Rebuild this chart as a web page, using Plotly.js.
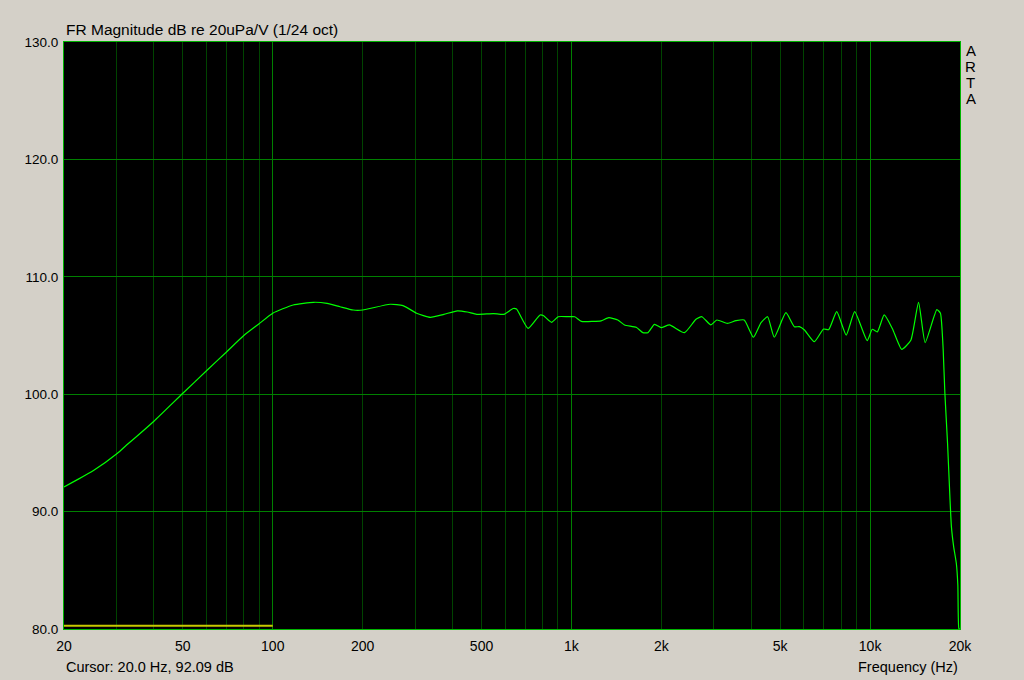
<!DOCTYPE html>
<html>
<head>
<meta charset="utf-8">
<script src="https://cdn.plot.ly/plotly-3.0.1.min.js"></script>
<style>
  html, body { margin: 0; padding: 0; background: #d4d0c8; }
  #chart { width: 1024px; height: 680px; }
</style>
</head>
<body>
<div id="chart"></div>
<script>
// Frequency response (Hz, dB re 20uPa/V)
const freqHz = [20, 22.1, 25.1, 30.2, 32.4, 35, 40, 50, 60, 70, 80, 90, 100, 117, 137, 152, 168, 186, 200, 247, 273, 303, 337, 374, 415, 448, 482, 548, 594, 638, 655, 716, 785, 805, 858, 903, 976, 1026, 1080, 1180, 1257, 1334, 1430, 1506, 1648, 1734, 1802, 1897, 1997, 2130, 2390, 2612, 2734, 2930, 3069, 3328, 3554, 3788, 4068, 4314, 4538, 4777, 5226, 5576, 5799, 6030, 6506, 6985, 7265, 7732, 8319, 8880, 9777, 10170, 10570, 11150, 11870, 12760, 13690, 14530, 15290, 16730, 17200, 17420, 17570, 17800, 18170, 18500, 18720, 19050, 19440, 19670, 19820, 19950];
const magDb = [92.1, 92.7, 93.5, 94.97, 95.67, 96.4, 97.7, 100.08, 102.0, 103.6, 105.0, 106.0, 106.9, 107.6, 107.83, 107.74, 107.45, 107.17, 107.17, 107.66, 107.55, 106.9, 106.55, 106.8, 107.1, 107.0, 106.8, 106.87, 106.8, 107.3, 107.25, 105.6, 106.75, 106.7, 106.12, 106.6, 106.6, 106.6, 106.2, 106.2, 106.25, 106.52, 106.32, 105.9, 105.7, 105.24, 105.24, 105.95, 105.67, 105.9, 105.24, 106.38, 106.6, 105.9, 106.32, 106.04, 106.26, 106.32, 104.85, 106.09, 106.6, 104.85, 106.94, 105.75, 105.75, 105.47, 104.47, 105.55, 105.5, 107.03, 105.04, 107.03, 104.56, 105.53, 105.3, 106.75, 105.6, 103.82, 104.6, 107.83, 104.4, 107.2, 106.9, 105.47, 103.77, 100.08, 95.82, 91.27, 88.7, 87.0, 85.6, 83.75, 80.06, 80.0];

// Yellow marker trace along the bottom
const markerFreq = [20, 100];
const markerDb = [80.28, 80.28];

// Axis ticks
const gridFreqs = [20, 30, 40, 50, 60, 70, 80, 90, 100, 200, 300, 400, 500, 600, 700, 800, 900, 1000, 2000, 3000, 4000, 5000, 6000, 7000, 8000, 9000, 10000, 20000];
const gridLabels = ['20', '', '', '50', '', '', '', '', '100', '200', '', '', '500', '', '', '', '', '1k', '2k', '', '', '5k', '', '', '', '', '10k', '20k'];
const decadeFreqs = [100, 1000, 10000];
const dbTicks = [80, 90, 100, 110, 120, 130];
const dbLabels = ['80.0', '90.0', '100.0', '110.0', '120.0', '130.0'];
const brand = 'ARTA';

const FONT = 'Liberation Sans, Arial, sans-serif';

const traces = [
  {
    x: markerFreq, y: markerDb, type: 'scatter', mode: 'lines',
    line: { color: '#c8c800', width: 2 }, hoverinfo: 'skip', showlegend: false
  },
  {
    x: freqHz, y: magDb, type: 'scatter', mode: 'lines',
    line: { color: '#00ff00', width: 1.2, shape: 'spline', smoothing: 0.5 },
    showlegend: false
  }
];

const xr = [Math.log10(20), Math.log10(20000)];

const annotations = [
  {
    text: 'Cursor: 20.0 Hz, 92.09 dB', xref: 'paper', yref: 'paper',
    x: 0, xshift: 0, xanchor: 'left', y: 0, yshift: -38, yanchor: 'middle',
    showarrow: false, font: { family: FONT, size: 14.5, color: '#000000' }
  },
  {
    text: 'Frequency (Hz)', xref: 'paper', yref: 'paper',
    x: 1, xshift: 0, xanchor: 'right', y: 0, yshift: -38, yanchor: 'middle',
    showarrow: false, font: { family: FONT, size: 14.5, color: '#000000' }
  }
];
brand.split('').forEach((ch, i) => {
  annotations.push({
    text: ch, xref: 'paper', yref: 'paper',
    x: 1, xshift: 10.5, xanchor: 'center', y: 1, yshift: -8 - 16 * i, yanchor: 'middle',
    showarrow: false, font: { family: FONT, size: 15, color: '#000000' }
  });
});

const layout = {
  width: 1024, height: 680,
  margin: { l: 64, r: 64, t: 42, b: 51, pad: 0 },
  paper_bgcolor: '#d4d0c8',
  plot_bgcolor: '#000000',
  showlegend: false,
  font: { family: FONT, size: 14, color: '#000000' },
  title: {
    text: 'FR Magnitude dB re 20uPa/V (1/24 oct)',
    font: { family: FONT, size: 15.5, color: '#000000' },
    x: 66 / 1024, xanchor: 'left', xref: 'container',
    y: 1 - 30 / 680, yanchor: 'middle', yref: 'container'
  },
  xaxis: {
    type: 'log', range: xr, fixedrange: true,
    tickmode: 'array', tickvals: gridFreqs, ticktext: gridLabels,
    showgrid: true, gridcolor: '#004400', gridwidth: 1,
    ticks: '', ticklabelstandoff: 4,
    tickfont: { family: FONT, size: 14, color: '#000000' },
    showline: true, linecolor: '#00b400', linewidth: 1, mirror: true,
    zeroline: false
  },
  xaxis2: {
    type: 'log', range: xr, overlaying: 'x', fixedrange: true,
    tickmode: 'array', tickvals: decadeFreqs,
    showgrid: true, gridcolor: '#008000', gridwidth: 1,
    showticklabels: false, ticks: '', zeroline: false, showline: false
  },
  yaxis: {
    range: [80, 130], fixedrange: true,
    tickmode: 'array', tickvals: dbTicks, ticktext: dbLabels,
    showgrid: true, gridcolor: '#008000', gridwidth: 1,
    ticks: '', ticklabelstandoff: 2,
    tickfont: { family: FONT, size: 13.5, color: '#000000' },
    showline: true, linecolor: '#00b400', linewidth: 1, mirror: true,
    zeroline: false
  },
  annotations: annotations
};

// Invisible trace to activate the overlay axis for decade grid lines
traces.push({ x: [20], y: [80], xaxis: 'x2', type: 'scatter', mode: 'markers', marker: { opacity: 0 }, hoverinfo: 'skip', showlegend: false });

Plotly.newPlot('chart', traces, layout, { staticPlot: true, displayModeBar: false });
</script>
</body>
</html>
